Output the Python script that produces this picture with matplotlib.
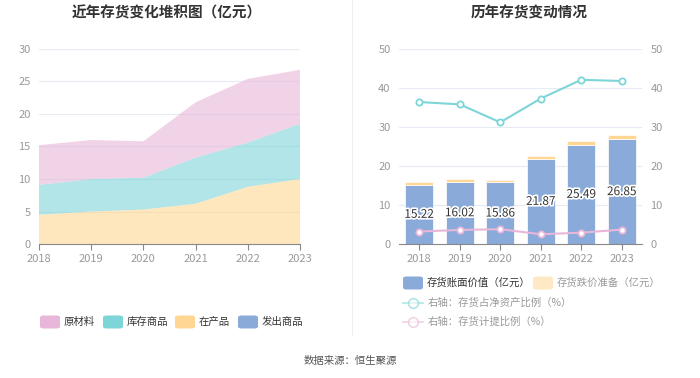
import numpy as np
import matplotlib.pyplot as plt
from matplotlib.patches import FancyBboxPatch
from matplotlib.lines import Line2D
import matplotlib.patheffects as pe

plt.rcParams['font.family'] = ['Noto Sans CJK SC', 'DejaVu Sans']

# ---------------- data ----------------
years = ['2018', '2019', '2020', '2021', '2022', '2023']

# left: stacked area (亿元)
fachu = [0.0, 0.0, 0.0, 0.0, 0.0, 0.0]          # 发出商品
zaichan = [4.5, 5.0, 5.3, 6.2, 8.8, 10.0]        # 在产品
kucun = [4.6, 5.0, 4.9, 7.1, 6.8, 8.5]           # 库存商品
yuancailiao = [6.1, 6.0, 5.6, 8.5, 9.8, 8.3]     # 原材料

# right: bars (亿元) and ratios (%)
book_value = [15.22, 16.02, 15.86, 21.87, 25.49, 26.85]
provision = [0.6, 0.65, 0.6, 0.65, 0.8, 1.05]
ratio_net_assets = [36.4, 35.8, 31.2, 37.3, 42.1, 41.8]
ratio_provision = [3.2, 3.6, 3.8, 2.5, 2.9, 3.7]

c_pink = '#E8B6D9'
c_teal = '#7ED5D8'
c_orange = '#FFD792'
c_blue = '#8AAAD9'
c_grid = '#E6EAF2'
c_tick = '#999999'

fig = plt.figure(figsize=(7, 3.78), dpi=100)

# ---------------- left chart ----------------
ax1 = fig.add_axes([39/700, 1-244/378, 261/700, 195/378])
x = np.arange(len(years))
ax1.stackplot(x, fachu, zaichan, kucun, yuancailiao,
              colors=[c_blue, c_orange, c_teal, c_pink], alpha=0.6, lw=0)
ax1.set_xlim(0, 5)
ax1.set_ylim(0, 30)
ax1.set_yticks(range(0, 31, 5))
ax1.set_xticks(x)
ax1.set_xticklabels(years)
ax1.grid(axis='y', color=c_grid, lw=0.8)
ax1.set_axisbelow(True)
for s in ['top', 'right', 'left']:
    ax1.spines[s].set_visible(False)
ax1.spines['bottom'].set_color('#888888')
ax1.tick_params(axis='y', length=0, colors=c_tick, labelsize=8, pad=6)
ax1.tick_params(axis='x', length=4, color='#888888', colors=c_tick, labelsize=8)

fig.text(167/700, 1-13/378, '近年存货变化堆积图（亿元）', ha='center', va='center',
         fontsize=10.5, fontweight='bold', color='#333333')

# ---------------- right chart ----------------
ax2 = fig.add_axes([399/700, 1-244/378, 243/700, 195/378])
ax2.bar(x, book_value, width=0.68, color=c_blue, edgecolor='white', lw=0.5, zorder=2)
ax2.bar(x, provision, bottom=book_value, width=0.68, color=c_orange,
        edgecolor='white', lw=0.5, zorder=2)
for xi, v in zip(x, book_value):
    ax2.text(xi, v/2, f'{v:.2f}', ha='center', va='center', fontsize=8.5,
             color='#333333', zorder=5,
             path_effects=[pe.withStroke(linewidth=2.5, foreground='white')])
ax2.set_xlim(-0.5, 5.5)
ax2.set_ylim(0, 50)
ax2.set_yticks(range(0, 51, 10))
ax2.set_xticks(x)
ax2.set_xticklabels(years)
ax2.grid(axis='y', color=c_grid, lw=0.8)
ax2.set_axisbelow(True)
for s in ['top', 'right', 'left']:
    ax2.spines[s].set_visible(False)
ax2.spines['bottom'].set_color('#888888')
ax2.tick_params(axis='y', length=0, colors=c_tick, labelsize=8, pad=6)
ax2.tick_params(axis='x', length=4, color='#888888', colors=c_tick, labelsize=8)

ax3 = ax2.twinx()
ax3.plot(x, ratio_net_assets, color=c_teal, lw=1.5, marker='o', ms=4.5,
         mfc='white', mec=c_teal, mew=1.3, zorder=4)
ax3.plot(x, ratio_provision, color=c_pink, lw=1.5, marker='o', ms=4.5,
         mfc='white', mec=c_pink, mew=1.3, zorder=4)
ax3.set_ylim(0, 50)
ax3.set_yticks(range(0, 51, 10))
for s in ['top', 'right', 'left', 'bottom']:
    ax3.spines[s].set_visible(False)
ax3.tick_params(axis='y', length=0, colors=c_tick, labelsize=8, pad=6)

fig.text(529/700, 1-13/378, '历年存货变动情况', ha='center', va='center',
         fontsize=10.5, fontweight='bold', color='#333333')

# divider
fig.add_artist(Line2D([352/700, 352/700], [1-335/378, 1.0], color='#EEEEEE', lw=0.8))

# ---------------- legends ----------------
def swatch(px, py, color, text, tcolor='#333333'):
    w, h = 20/700, 13/378
    fig.add_artist(FancyBboxPatch((px/700, 1-py/378 - h/2), w, h,
                                  boxstyle='round,pad=0,rounding_size=0.005',
                                  transform=fig.transFigure, color=color, lw=0))
    fig.text(px/700 + w + 4/700, 1-py/378, text, ha='left', va='center',
             fontsize=7.5, color=tcolor)

def line_item(px, py, color, text):
    fig.add_artist(Line2D([px/700, (px+20)/700], [1-py/378, 1-py/378],
                          color=color, lw=1.2, alpha=0.6))
    fig.add_artist(Line2D([(px+10)/700], [1-py/378], marker='o', ms=7,
                          mfc='white', mec=color, mew=1.2, alpha=0.6))
    fig.text((px+25)/700, 1-py/378, text, ha='left', va='center',
             fontsize=7.5, color=c_tick)

swatch(40, 322, c_pink, '原材料')
swatch(103, 322, c_teal, '库存商品')
swatch(175, 322, c_orange, '在产品')
swatch(238, 322, c_blue, '发出商品')

swatch(403, 283, c_blue, '存货账面价值（亿元）')
swatch(533, 283, '#FFE9C4', '存货跌价准备（亿元）', tcolor=c_tick)
line_item(403, 303, c_teal, '右轴：存货占净资产比例（%）')
line_item(403, 322, c_pink, '右轴：存货计提比例（%）')

fig.text(350/700, 1-361/378, '数据来源：恒生聚源', ha='center', va='center',
         fontsize=7.5, color='#555555')

fig.savefig('out.png', dpi=100)
